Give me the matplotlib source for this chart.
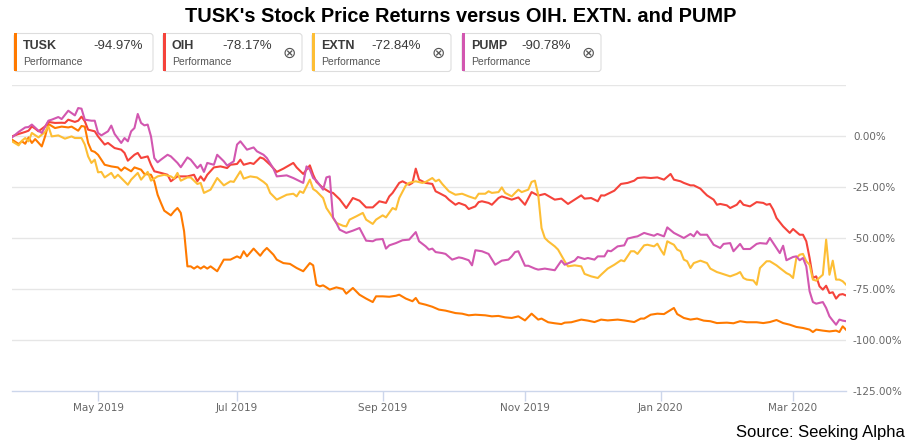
import numpy as np
import pandas as pd
import matplotlib
matplotlib.use("Agg")
import matplotlib.pyplot as plt
from matplotlib.patches import FancyBboxPatch, Rectangle
from matplotlib.ticker import FuncFormatter, FixedLocator

# ---------------- data ----------------
START, END = "2019-03-25", "2020-03-24"
HOLIDAYS = ["2019-04-19", "2019-05-27", "2019-07-04", "2019-09-02", "2019-11-28",
            "2019-12-25", "2020-01-01", "2020-01-20", "2020-02-17"]
TICK_MONTHS = ["2019-05", "2019-07", "2019-09", "2019-11", "2020-01", "2020-03"]

NAMES = ["TUSK", "OIH", "EXTN", "PUMP"]

# session index (trading days since START) and % return
TUSK_day = [0, 2, 3, 4, 5, 6, 7, 9, 10, 11, 13, 15, 17, 18, 20, 21, 22, 23, 24, 25, 26, 28, 30, 32, 33, 34,
            36, 37, 39, 40, 42, 43, 44, 45, 46, 48, 49, 50, 51, 52, 53, 54, 55, 56, 57, 58, 59, 60, 62, 64,
            66, 68, 69, 70, 71, 73, 75, 76, 77, 79, 80, 82, 84, 86, 88, 90, 91, 92, 93, 94, 95, 96, 98, 100,
            101, 103, 105, 107, 109, 110, 112, 114, 116, 117, 119, 121, 122, 123, 125, 127, 129, 131, 134,
            136, 138, 140, 143, 145, 147, 149, 151, 153, 155, 157, 159, 160, 162, 164, 166, 167, 169, 172,
            174, 176, 178, 180, 183, 185, 188, 190, 191, 193, 195, 197, 198, 200, 201, 203, 205, 207, 209,
            211, 213, 216, 218, 220, 222, 225, 227, 229, 231, 233, 235, 237, 239, 241, 242, 243, 245, 247,
            249, 250, 251, 252]
TUSK_pct = [-1.8, -3.9, -2.6, -3.8, -0.7, -3.4, -1.5, -5.1, -0.2, 5.9, 3.9, 4.6, 4.2, 4.6, 2.6, 4.9, 4.6,
            -3.4, -7.2, -7.8, -9.2, -14.1, -14.9, -15.4, -17.0, -15.4, -17.3, -15.4, -16.5, -18.6, -19.0,
            -22.2, -28.8, -32.8, -36.6, -38.9, -36.9, -35.3, -37.7, -46.7, -63.9, -63.9, -65.0, -63.9,
            -65.0, -63.9, -65.0, -63.9, -66.3, -60.6, -60.6, -59.0, -59.8, -56.5, -59.0, -55.2, -58.7,
            -56.5, -54.9, -58.2, -60.6, -62.3, -62.7, -64.7, -66.3, -62.3, -63.4, -72.9, -73.7, -73.2,
            -74.2, -75.3, -74.2, -75.0, -77.3, -74.5, -77.8, -79.7, -81.4, -78.6, -78.6, -78.8, -78.3,
            -77.8, -79.7, -81.0, -79.4, -81.9, -82.7, -83.7, -85.1, -85.6, -86.8, -87.1, -87.9, -87.6,
            -87.9, -88.4, -88.2, -88.9, -89.2, -88.4, -90.4, -87.1, -90.0, -89.5, -91.3, -91.8, -92.2,
            -91.5, -91.3, -90.0, -90.5, -91.2, -90.0, -90.4, -90.0, -90.4, -91.2, -89.5, -89.5, -87.6,
            -87.1, -87.3, -86.3, -84.3, -87.3, -89.2, -90.0, -89.5, -90.5, -90.8, -91.7, -91.5, -91.8,
            -90.8, -91.3, -91.3, -91.7, -91.2, -90.2, -91.7, -92.5, -93.6, -94.1, -94.9, -96.1, -94.9,
            -95.4, -95.8, -95.4, -96.1, -93.3, -94.97]

OIH_day = [0, 2, 4, 5, 6, 7, 8, 10, 11, 13, 15, 16, 17, 19, 20, 21, 22, 23, 25, 26, 28, 29, 31, 33, 34, 35,
           37, 38, 39, 41, 42, 43, 45, 47, 48, 50, 51, 53, 55, 56, 57, 58, 59, 61, 63, 65, 66, 68, 69, 70,
           72, 73, 75, 76, 78, 80, 82, 84, 85, 86, 88, 90, 91, 92, 94, 96, 97, 99, 101, 103, 105, 107, 109,
           111, 113, 114, 115, 117, 118, 120, 121, 122, 123, 125, 127, 128, 129, 131, 132, 134, 135, 137,
           138, 140, 141, 142, 144, 145, 147, 148, 150, 151, 153, 155, 157, 159, 161, 164, 166, 168, 170,
           172, 173, 175, 177, 178, 179, 182, 184, 186, 188, 189, 191, 193, 195, 197, 199, 200, 202, 203,
           205, 206, 208, 209, 210, 212, 213, 214, 216, 217, 219, 220, 221, 223, 225, 227, 228, 229, 230,
           231, 233, 235, 236, 238, 239, 240, 241, 242, 243, 244, 245, 246, 247, 248, 249, 250, 251, 252]
OIH_pct = [-0.2, 1.0, 2.0, 2.6, 4.7, 3.6, 2.3, 4.7, 6.9, 6.4, 6.5, 6.4, 8.0, 6.9, 7.5, 9.5, 7.2, 3.1, 2.3,
           -0.2, -4.2, -3.4, -5.9, -6.7, -8.3, -12.1, -9.2, -8.3, -10.8, -10.0, -14.1, -17.3, -18.1, -19.0,
           -22.2, -19.8, -19.8, -19.8, -19.0, -22.2, -19.8, -21.9, -19.0, -15.4, -14.9, -15.7, -14.1,
           -13.7, -11.6, -14.1, -13.2, -13.7, -10.5, -11.1, -14.1, -17.6, -16.0, -14.1, -13.2, -15.4,
           -18.6, -14.4, -19.0, -22.5, -25.5, -27.5, -27.9, -31.0, -35.3, -30.4, -31.7, -35.0, -35.0,
           -32.0, -32.8, -29.6, -27.9, -23.0, -22.2, -23.9, -23.0, -16.0, -21.4, -23.0, -23.5, -27.1,
           -27.9, -29.6, -31.2, -33.7, -32.8, -34.0, -35.8, -34.5, -32.4, -32.0, -32.8, -33.7, -30.4,
           -29.6, -30.7, -31.2, -30.1, -33.7, -27.5, -29.2, -28.4, -31.2, -30.7, -33.3, -31.2, -29.1,
           -30.7, -30.4, -32.0, -29.1, -29.2, -26.8, -23.5, -23.0, -21.9, -20.6, -20.3, -20.6, -20.3,
           -21.4, -18.6, -21.4, -22.2, -23.0, -24.2, -24.2, -25.8, -27.5, -29.1, -31.2, -33.7, -33.3,
           -34.0, -35.3, -33.7, -31.7, -33.7, -34.5, -32.4, -32.8, -33.7, -33.3, -36.1, -40.2, -44.3,
           -47.5, -45.6, -48.4, -48.4, -51.6, -59.8, -69.6, -68.8, -73.7, -75.3, -73.4, -77.0, -76.6,
           -79.7, -77.8, -77.5, -78.17]

EXTN_day = [0, 2, 3, 4, 5, 6, 8, 10, 11, 12, 14, 16, 18, 19, 21, 22, 23, 24, 25, 26, 27, 28, 30, 31, 32,
            33, 35, 36, 38, 39, 41, 42, 44, 46, 48, 49, 50, 51, 53, 54, 56, 57, 58, 60, 62, 64, 66, 67, 69,
            70, 72, 74, 76, 77, 78, 80, 83, 85, 86, 87, 88, 90, 91, 92, 94, 95, 97, 98, 100, 101, 102, 104,
            106, 107, 109, 110, 112, 113, 115, 116, 117, 119, 120, 122, 124, 125, 127, 128, 129, 130, 132,
            134, 136, 138, 140, 141, 143, 144, 145, 147, 148, 149, 151, 152, 153, 154, 156, 157, 158, 159,
            160, 161, 162, 164, 165, 167, 168, 170, 172, 173, 175, 177, 178, 180, 182, 184, 185, 187, 188,
            189, 191, 192, 194, 195, 196, 197, 198, 199, 200, 201, 202, 203, 204, 205, 206, 208, 210, 211,
            213, 214, 216, 217, 219, 220, 221, 222, 224, 225, 226, 228, 229, 231, 232, 234, 235, 236, 237,
            238, 239, 240, 241, 242, 243, 245, 246, 247, 248, 249, 250, 251, 252]
EXTN_pct = [-2.6, -4.6, -2.3, -1.0, -2.6, 1.5, -0.7, 2.0, 4.7, -0.2, 0.3, -1.3, -0.2, -1.0, -1.0, -4.2,
            -10.0, -13.2, -11.6, -17.8, -17.6, -20.3, -18.1, -20.6, -19.0, -20.6, -23.9, -21.4, -18.1,
            -21.4, -17.6, -21.9, -19.8, -19.0, -19.8, -20.9, -18.1, -21.9, -20.3, -20.3, -23.5, -23.0,
            -27.9, -26.3, -20.6, -24.2, -22.2, -22.5, -17.3, -20.9, -19.8, -20.3, -22.5, -23.9, -27.9,
            -31.2, -28.8, -28.3, -29.6, -27.1, -27.9, -21.4, -26.0, -27.1, -30.4, -35.3, -40.2, -42.6,
            -44.0, -44.3, -41.0, -39.4, -37.7, -41.0, -43.1, -41.0, -38.9, -39.9, -35.3, -36.1, -30.4,
            -24.2, -23.0, -22.2, -23.0, -22.5, -20.6, -22.2, -21.4, -23.5, -27.1, -28.8, -28.3, -29.6,
            -30.7, -28.3, -28.3, -27.1, -27.9, -27.5, -25.2, -27.9, -29.6, -27.9, -26.3, -27.5, -26.3,
            -22.5, -21.9, -28.8, -45.1, -50.0, -51.6, -54.1, -55.7, -61.4, -63.9, -63.4, -63.9, -67.6,
            -68.8, -69.6, -68.0, -65.0, -63.1, -60.9, -61.4, -56.5, -56.5, -57.8, -53.6, -53.3, -54.1,
            -52.8, -55.7, -58.2, -51.6, -52.5, -53.3, -55.7, -56.5, -60.6, -61.4, -64.7, -62.3, -61.1,
            -62.3, -65.0, -66.7, -67.2, -68.3, -68.8, -67.6, -66.7, -69.6, -70.4, -70.8, -72.9, -64.7,
            -61.4, -61.4, -63.4, -64.7, -67.2, -68.0, -69.6, -59.8, -58.2, -57.8, -61.4, -63.1, -70.4,
            -70.9, -68.0, -50.8, -68.0, -61.1, -70.4, -70.4, -71.2, -72.84]

PUMP_day = [0, 2, 4, 5, 6, 8, 9, 11, 12, 14, 15, 17, 19, 20, 21, 22, 24, 25, 26, 27, 29, 30, 31, 33, 34,
            35, 36, 37, 38, 39, 40, 41, 42, 43, 44, 45, 47, 48, 50, 51, 53, 54, 56, 57, 58, 59, 61, 62, 64,
            65, 67, 68, 69, 71, 73, 74, 76, 77, 79, 80, 83, 85, 86, 88, 89, 90, 91, 92, 94, 95, 96, 97, 98,
            99, 101, 103, 105, 107, 109, 110, 112, 113, 114, 116, 118, 120, 122, 123, 125, 126, 127, 128,
            130, 131, 133, 135, 136, 138, 139, 140, 142, 144, 146, 148, 150, 151, 152, 153, 155, 156, 158,
            159, 161, 163, 164, 166, 167, 169, 170, 171, 173, 174, 176, 177, 179, 180, 181, 183, 185, 186,
            188, 189, 191, 192, 194, 195, 197, 198, 200, 202, 203, 205, 206, 207, 208, 210, 211, 212, 214,
            215, 217, 218, 220, 221, 223, 225, 226, 228, 229, 230, 232, 233, 234, 236, 237, 238, 239, 240,
            241, 242, 243, 245, 246, 247, 248, 249, 250, 251, 252]
PUMP_pct = [-0.7, 2.0, 4.2, 4.4, 5.6, 2.6, 1.5, 7.5, 8.0, 9.3, 8.3, 12.4, 10.1, 13.7, 13.4, 8.0, 7.5, 7.5,
            1.5, 0.3, 2.3, 5.1, 1.0, -3.4, -1.0, -2.6, 2.3, 3.9, 10.8, 6.4, 5.2, 5.6, -0.2, -10.8, -12.9,
            -11.6, -9.2, -10.0, -13.2, -15.3, -10.5, -11.6, -15.7, -14.1, -17.6, -13.2, -14.1, -9.2,
            -12.4, -14.5, -12.4, -4.2, -2.6, -6.7, -5.6, -7.5, -9.2, -10.8, -16.0, -19.8, -19.3, -20.6,
            -21.4, -23.0, -14.9, -16.5, -20.6, -21.9, -26.3, -20.3, -19.8, -39.9, -42.6, -45.9, -47.5,
            -46.4, -45.1, -51.3, -51.6, -50.8, -50.5, -55.2, -53.6, -52.5, -51.1, -50.8, -47.1, -51.6,
            -54.1, -55.7, -55.2, -56.9, -57.4, -57.8, -60.6, -59.5, -59.8, -60.9, -63.4, -56.0, -56.5,
            -57.8, -63.1, -61.1, -60.6, -59.0, -56.9, -56.5, -63.6, -63.6, -65.0, -65.5, -65.0, -65.5,
            -65.8, -61.1, -63.1, -61.8, -61.1, -59.3, -60.3, -59.8, -60.6, -59.0, -59.0, -56.2, -56.5,
            -54.1, -53.6, -50.3, -49.5, -49.2, -47.5, -48.0, -48.9, -48.0, -49.2, -44.8, -47.5, -49.2,
            -50.0, -48.0, -49.2, -46.7, -48.4, -48.4, -50.8, -53.3, -54.9, -52.9, -52.5, -56.5, -52.9,
            -55.4, -55.4, -52.9, -52.5, -52.8, -50.0, -52.5, -57.4, -53.8, -60.9, -59.3, -59.0, -60.9,
            -59.8, -63.9, -76.1, -81.4, -82.2, -81.4, -84.3, -88.4, -90.5, -92.5, -90.0, -90.5, -90.78]

COLORS = ["#ff7a00", "#f5433b", "#fdbe35", "#d257b0"]
SERIES_DAYS = [TUSK_day, OIH_day, EXTN_day, PUMP_day]
SERIES_VALS = [TUSK_pct, OIH_pct, EXTN_pct, PUMP_pct]
Y_TICKS = [0, -25, -50, -75, -100, -125]
Y_GRID = [25, 0, -25, -50, -75, -100]
TITLE = "TUSK's Stock Price Returns versus OIH. EXTN. and PUMP"
SOURCE = "Source: Seeking Alpha"

# ---------------- calendar ----------------
sessions = pd.bdate_range(START, END, freq="C", holidays=HOLIDAYS)
tick_pos = [int(np.argmax(sessions.strftime("%Y-%m") == m)) for m in TICK_MONTHS]
tick_lab = [sessions[p].strftime("%b %Y") for p in tick_pos]

# ---------------- figure ----------------
W, H = 923, 448
fig = plt.figure(figsize=(W / 100, H / 100), dpi=100)
fig.patch.set_facecolor("white")

L, R, T, B = 12, 846, 85, 391
ax = fig.add_axes([L / W, 1 - B / H, (R - L) / W, (B - T) / H])
ax.set_xlim(0, len(sessions) - 1)
ax.set_ylim(-125, 25)
for s in ["top", "left", "right"]:
    ax.spines[s].set_visible(False)
ax.spines["bottom"].set_color("#ccd6eb")
ax.spines["bottom"].set_linewidth(1.0)

for g in Y_GRID:
    ax.axhline(g, color="#e6e6e6", lw=1.0, zorder=0)

for days, vals, c in zip(SERIES_DAYS, SERIES_VALS, COLORS):
    ax.plot(days, vals, color=c, lw=1.5, solid_joinstyle="round", zorder=2)

ax.yaxis.tick_right()
ax.yaxis.set_major_locator(FixedLocator(Y_TICKS))
ax.yaxis.set_major_formatter(FuncFormatter(lambda v, p: f"{v:.2f}%".replace("\u2212", "-")))
ax.tick_params(axis="y", length=0, pad=5, labelsize=7.5, labelcolor="#666666")
ax.set_xticks(tick_pos)
ax.set_xticklabels(tick_lab)
ax.tick_params(axis="x", length=7, width=1, color="#ccd6eb", pad=1.5, labelsize=7.5,
               labelcolor="#666666")

# ---------------- overlay: title, legend cards, source ----------------
ov = fig.add_axes([0, 0, 1, 1], zorder=5)
ov.set_xlim(0, W)
ov.set_ylim(H, 0)
ov.axis("off")
ov.patch.set_alpha(0)

ov.text(461, 17, TITLE, ha="center", va="center", fontsize=14.4, fontweight="bold",
        family="Liberation Sans", color="black")

card_x = [14, 163, 312, 462]
card_w, card_y, card_h = 139, 33.5, 38
for i, (name, vals, c) in enumerate(zip(NAMES, SERIES_VALS, COLORS)):
    x0 = card_x[i]
    ov.add_patch(FancyBboxPatch((x0, card_y), card_w, card_h,
                                boxstyle="round,pad=0,rounding_size=3",
                                fc="white", ec="#dddddd", lw=0.8))
    ov.add_patch(Rectangle((x0, card_y), 3, card_h, fc=c, ec="none"))
    ov.text(x0 + 9, 46, name, ha="left", va="center", fontsize=9, fontweight="bold",
            family="Liberation Sans", color="#3a3a3a")
    right = x0 + card_w - (10 if i == 0 else 30)
    ov.text(right, 46, f"{vals[-1]:.2f}%", ha="right", va="center", fontsize=9.5,
            family="Liberation Sans", color="#3a3a3a")
    ov.text(x0 + 9, 62, "Performance", ha="left", va="center", fontsize=7.5,
            family="Liberation Sans", color="#555555")
    if i > 0:
        ov.text(x0 + card_w - 13, 53, "\u2297", ha="center", va="center", fontsize=11.5,
                family="DejaVu Sans", color="#555555")

ov.text(905, 433, SOURCE, ha="right", va="center", fontsize=12, family="Liberation Sans",
        color="black")

fig.savefig("out.png", dpi=100, facecolor="white")
